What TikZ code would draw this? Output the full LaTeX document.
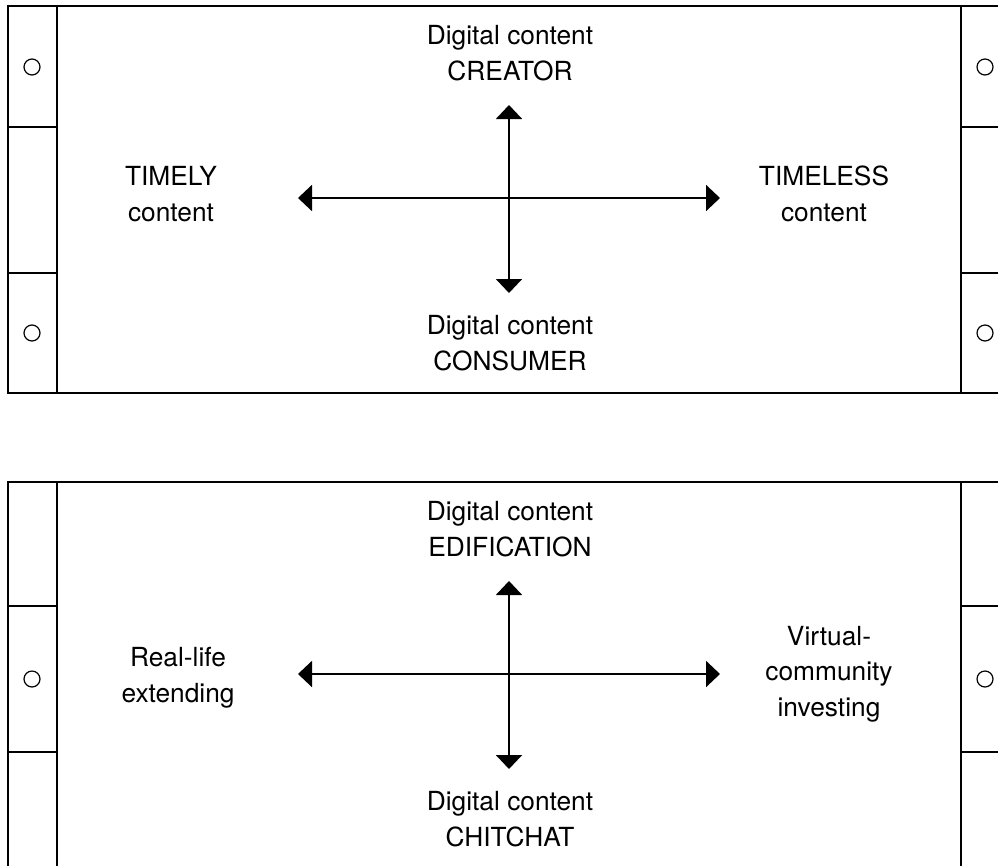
\documentclass[tikz,border=0pt]{standalone}
\usepackage{fontspec}
\setmainfont{TeX Gyre Heros}
\usetikzlibrary{positioning, arrows.meta}
\tikzset{
    frameline/.style={line width=1.2pt},
    tabbox/.style={line width=1.8pt},
    hole/.style={circle, draw, line width=1.2pt, minimum size=16pt, inner sep=0pt},
    axislabel/.style={align=center, font=\fontsize{26.3}{35.5}\selectfont, inner sep=0pt, anchor=base},
    axisarrow/.style={line width=2pt, {Triangle[length=14pt, width=26pt]}-{Triangle[length=14pt, width=26pt]}}
}
\begin{document}
\begin{tikzpicture}[x=1pt, y=-1pt]
    \useasboundingbox (0,0) rectangle (998,865);
    \clip (0,0) rectangle (998,865);
    \draw[frameline] (8,6) rectangle (1012,393);
    \draw[frameline] (57,6) -- (57,393) (961,6) -- (961,393);
    \draw[tabbox] (8,127) rectangle (57,273);
    \draw[tabbox] (961,127) rectangle (1012,273);
    \node[hole] (h1) at (32,67) {};
    \node[hole] (h2) at (32,333) {};
    \node[hole] (h3) at (985,67) {};
    \node[hole] (h4) at (985,333) {};
    \coordinate (l1) at (298,198);
    \coordinate (r1) at (720,198);
    \coordinate (t1) at (509,105);
    \coordinate (b1) at (509,293);
    \draw[axisarrow] (l1) -- (r1);
    \draw[axisarrow] (t1) -- (b1);
    \node[axislabel] (creator) at (510,80) {Digital content\\CREATOR};
    \node[axislabel] (consumer) at (510,370) {Digital content\\CONSUMER};
    \node[axislabel] (timely) at (171,221) {TIMELY\\content};
    \node[axislabel] (timeless) at (824,221) {TIMELESS\\content};

    \draw[frameline] (8,482) rectangle (1012,870);
    \draw[frameline] (57,482) -- (57,870) (961,482) -- (961,870);
    \draw[tabbox] (8,606) rectangle (57,752);
    \draw[tabbox] (961,606) rectangle (1012,752);
    \node[hole] (h5) at (32,679) {};
    \node[hole] (h6) at (985,679) {};
    \coordinate (l2) at (298,674);
    \coordinate (r2) at (720,674);
    \coordinate (t2) at (509,581);
    \coordinate (b2) at (509,769);
    \draw[axisarrow] (l2) -- (r2);
    \draw[axisarrow] (t2) -- (b2);
    \node[axislabel] (edification) at (510,556) {Digital content\\EDIFICATION};
    \node[axislabel] (chitchat) at (510,846) {Digital content\\CHITCHAT};
    \node[axislabel] (reallife) at (178,702) {Real-life\\extending};
    \node[axislabel] (virtual) at (829,716) {Virtual-\\community\\investing};
\end{tikzpicture}
\end{document}
